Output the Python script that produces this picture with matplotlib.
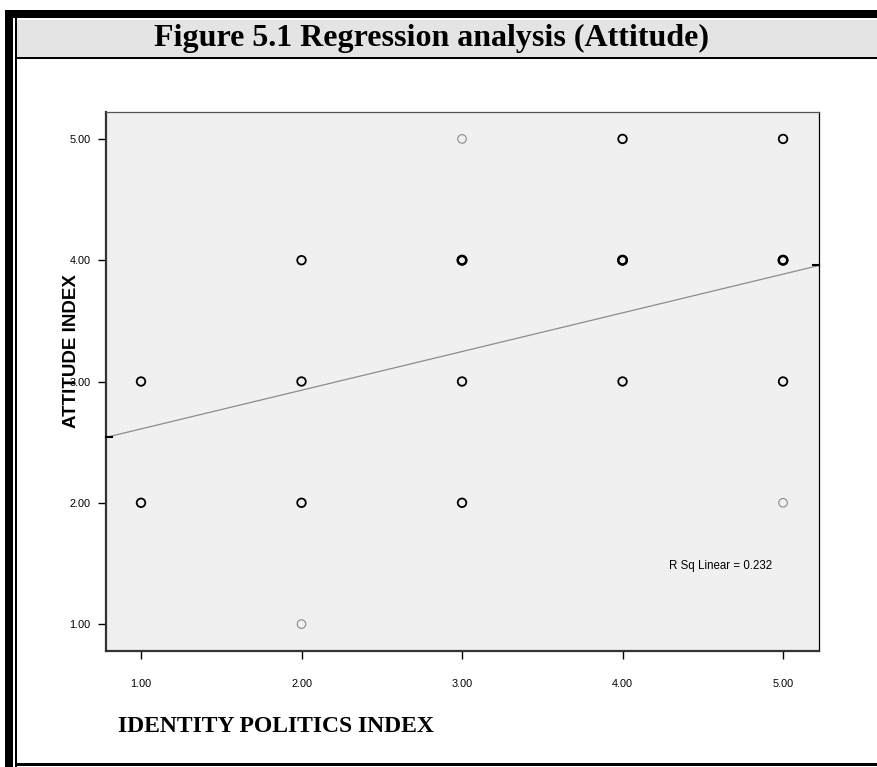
import matplotlib
matplotlib.use("Agg")
import matplotlib.pyplot as plt
from matplotlib.patches import Rectangle
import numpy as np

# ---- data ----
x_dense = [1, 1, 2, 2, 2, 3, 3, 3, 4, 4, 4, 5, 5, 5]
y_dense = [3, 2, 4, 3, 2, 4, 3, 2, 5, 4, 3, 5, 4, 3]
x_single = [2, 3, 5]
y_single = [1, 5, 2]
x_bold = [3, 4, 5]
y_bold = [4, 4, 4]
fit_intercept = 2.29
fit_slope = 0.319
r_sq = 0.232
ticks = [1.0, 2.0, 3.0, 4.0, 5.0]
tick_labels = ["1.00", "2.00", "3.00", "4.00", "5.00"]
title = "Figure 5.1 Regression analysis (Attitude)"
xlabel = "IDENTITY POLITICS INDEX"
ylabel = "ATTITUDE INDEX"

W, H = 877, 767
fig = plt.figure(figsize=(W / 100, H / 100), dpi=100)
fig.patch.set_facecolor("white")

# ---- page frame (pixel coordinates) ----
bg = fig.add_axes([0, 0, 1, 1], zorder=0)
bg.set_xlim(0, W)
bg.set_ylim(H, 0)
bg.axis("off")
bg.add_patch(Rectangle((5, 10), W - 5, 8, facecolor="black", edgecolor="none"))
bg.add_patch(Rectangle((5, 10), 8, H - 10, facecolor="black", edgecolor="none"))
bg.add_patch(Rectangle((15, 18), 1.6, H - 18, facecolor="black", edgecolor="none"))
bg.add_patch(Rectangle((16.6, 20), W - 16.6, 37, facecolor="#e4e4e4", edgecolor="none"))
bg.add_patch(Rectangle((15, 57), W - 15, 2.2, facecolor="black", edgecolor="none"))
bg.add_patch(Rectangle((15, 763), W - 15, 2.5, facecolor="black", edgecolor="none"))
bg.text(432, 38, title, ha="center", va="center", fontsize=23, fontweight="bold",
        family="Liberation Serif")
bg.text(118, 727, xlabel, ha="left", va="center", fontsize=17, fontweight="bold",
        family="Liberation Serif")
bg.text(72, 351, ylabel, ha="center", va="center", rotation=90, fontsize=13.5,
        fontweight="bold", family="Liberation Sans")

# ---- plot axes ----
ax = fig.add_axes([106 / W, 1 - 651 / H, (819 - 106) / W, (651 - 112) / H], zorder=1)
ax.set_facecolor("#f0f0f0")
ax.set_xlim(0.782, 5.224)
ax.set_ylim(0.778, 5.222)
for s in ["left", "bottom"]:
    ax.spines[s].set_linewidth(1.6)
    ax.spines[s].set_color("#333333")
for s in ["top", "right"]:
    ax.spines[s].set_linewidth(0.9)
    ax.spines[s].set_color("#555555")
ax.spines["right"].set_color("black")

ax.set_xticks(ticks)
ax.set_xticklabels(tick_labels)
ax.set_yticks(ticks)
ax.set_yticklabels(tick_labels)
ax.tick_params(axis="both", length=6, width=1, color="black", labelsize=7.8,
               direction="out", pad=14)
ax.tick_params(axis="y", pad=5)
for lab in ax.get_xticklabels() + ax.get_yticklabels():
    lab.set_family("Liberation Sans")

# regression line
xl = np.array(ax.get_xlim())
ax.plot(xl, fit_intercept + fit_slope * xl, color="#8c8c8c", lw=0.9, zorder=2,
        clip_on=False)
# small end markers at the spines
ax.plot([xl[1] - 0.04, xl[1]], fit_intercept + fit_slope * np.array([xl[1], xl[1]]),
        color="black", lw=1.5, clip_on=False, zorder=3)
ax.plot([xl[0], xl[0] + 0.04], fit_intercept + fit_slope * np.array([xl[0], xl[0]]),
        color="black", lw=1.5, clip_on=False, zorder=3)

# points
ax.scatter(x_single, y_single, s=38, facecolors="none", edgecolors="#8a8a8a",
           linewidths=0.8, zorder=4)
ax.scatter(x_dense, y_dense, s=38, facecolors="none", edgecolors="black",
           linewidths=1.3, zorder=4)
ax.scatter(x_bold, y_bold, s=38, facecolors="none", edgecolors="black",
           linewidths=1.8, zorder=4)

ax.text(4.61, 1.48, f"R Sq Linear = {r_sq:.3f}", ha="center", va="center",
        fontsize=8.3, family="Liberation Sans")

fig.savefig("out.png", dpi=100)
